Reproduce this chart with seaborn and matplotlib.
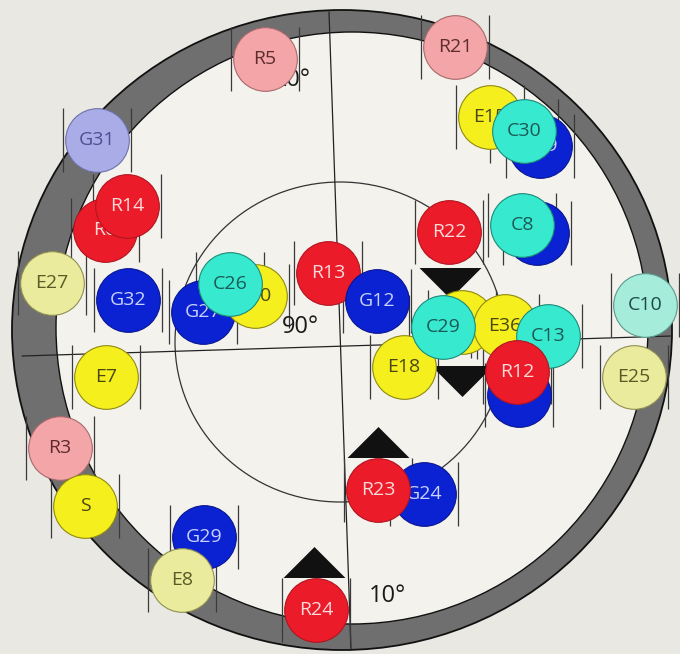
import matplotlib.pyplot as plt
import pandas as pd
import seaborn as sns
from matplotlib.patches import Ellipse

# circle markers, listed in drawing order (later ones sit on top)
labels = ["R5", "R21", "G31", "E15", "G19", "C30", "R6", "R14", "", "C8",
          "R22", "E27", "G32", "G27", "E10", "C26", "R13", "G12", "C10", "",
          "E36", "E18", "C29", "C13", "", "R12", "E25", "E7", "G24", "R23",
          "R3", "S", "G29", "E8", "R24"]
x_pos = [265, 455, 97, 490, 540, 524, 105, 127, 537, 522,
         449, 52, 128, 203, 255, 230, 328, 377, 645, 462,
         505, 404, 443, 548, 519, 517, 634, 106, 424, 378,
         60, 85, 204, 182, 316]
y_pos = [59, 47, 140, 117, 146, 131, 230, 206, 233, 225,
         232, 283, 300, 312, 296, 284, 273, 301, 305, 322,
         326, 367, 327, 336, 395, 372, 377, 377, 494, 490,
         448, 506, 537, 580, 610]
groups = ["pink", "pink", "lilac", "yellow", "blue", "cyan", "red", "red", "blue", "cyan",
          "red", "pale_yellow", "blue", "blue", "yellow", "cyan", "red", "blue", "pale_cyan", "yellow",
          "yellow", "yellow", "cyan", "cyan", "blue", "red", "pale_yellow", "yellow", "blue", "red",
          "pink", "yellow", "blue", "pale_yellow", "red"]

# black triangles
tri_x = [450, 462, 378, 314]
tri_y = [283, 381, 442, 562]
tri_dir = ["down", "down", "up", "up"]

# angle notes
angle_text = ["20°", "90°", "10°"]
angle_x = [292, 300, 387]
angle_y = [80, 327, 596]

fill = {"red": "#ec1b2a", "blue": "#0b22d2", "yellow": "#f6ef1e", "cyan": "#36e9cf",
        "pink": "#f4a5a8", "lilac": "#a9ace6", "pale_yellow": "#ebeb9e", "pale_cyan": "#a6ecda"}
edge = {"red": "#b01520", "blue": "#0a1690", "yellow": "#8f8a10", "cyan": "#1d8a78",
        "pink": "#a86a6c", "lilac": "#6f72aa", "pale_yellow": "#8f8f50", "pale_cyan": "#5a9a8a"}
ink = {"red": "#fbdada", "blue": "#c9d1ff", "yellow": "#4a4812", "cyan": "#1c5a55",
       "pink": "#5e2c2c", "lilac": "#4d4f92", "pale_yellow": "#5a5a24", "pale_cyan": "#1c4a46"}

df = pd.DataFrame({"label": labels, "x": x_pos, "y": y_pos, "group": groups})
tri = pd.DataFrame({"x": tri_x, "y": tri_y, "dir": tri_dir})

sns.set_theme(style="white")
plt.rcParams["font.family"] = ["Open Sans", "DejaVu Sans"]

fig = plt.figure(figsize=(6.8, 6.54), dpi=100, facecolor="#e9e8e3")
ax = fig.add_axes([0, 0, 1, 1])
ax.set_facecolor("#e9e8e3")

# ring, inner disk and thin circle
ax.add_patch(Ellipse((342, 330), 660, 640, facecolor="#6f6f6f", edgecolor="#111111", lw=1.3, zorder=1))
ax.add_patch(Ellipse((352, 328), 592, 592, facecolor="#f3f2ed", edgecolor="#111111", lw=1.0, zorder=1.5))
ax.add_patch(Ellipse((340, 342), 330, 320, fill=False, edgecolor="#333333", lw=0.9, zorder=2))

# cross lines
ax.plot([329, 351], [12, 650], color="#222222", lw=0.9, zorder=3)
ax.plot([22, 672], [356, 336], color="#222222", lw=0.9, zorder=3)

for t, tx, ty in zip(angle_text, angle_x, angle_y):
    ax.text(tx, ty, t, fontsize=17, color="#1a1a1a", ha="center", va="center", zorder=9)

# bracket ticks left and right of each marker
ax.vlines(df["x"] - 34, df["y"] - 32, df["y"] + 32, color="#3a3a3a", lw=0.9, zorder=4)
ax.vlines(df["x"] + 34, df["y"] - 32, df["y"] + 32, color="#3a3a3a", lw=0.9, zorder=4)

down = [(-1, 0.5), (1, 0.5), (0, -0.5)]
up = [(-1, -0.5), (1, -0.5), (0, 0.5)]
for d, verts in [("down", down), ("up", up)]:
    sub = tri[tri["dir"] == d]
    sns.scatterplot(data=sub, x="x", y="y", marker=verts, s=1990, color="#111111",
                    linewidth=0, zorder=5, ax=ax, legend=False)

for i, row in df.iterrows():
    sns.scatterplot(x=[row["x"]], y=[row["y"]], s=2100, color=fill[row["group"]],
                    edgecolor=edge[row["group"]], linewidth=0.8, zorder=10 + 2 * i,
                    ax=ax, legend=False)
    if row["label"]:
        ax.text(row["x"], row["y"], row["label"], fontsize=14, color=ink[row["group"]],
                ha="center", va="center", zorder=11 + 2 * i)

ax.set_xlim(0, 680)
ax.set_ylim(654, 0)
ax.set_axis_off()

fig.savefig("out.png", dpi=100, facecolor=fig.get_facecolor())
